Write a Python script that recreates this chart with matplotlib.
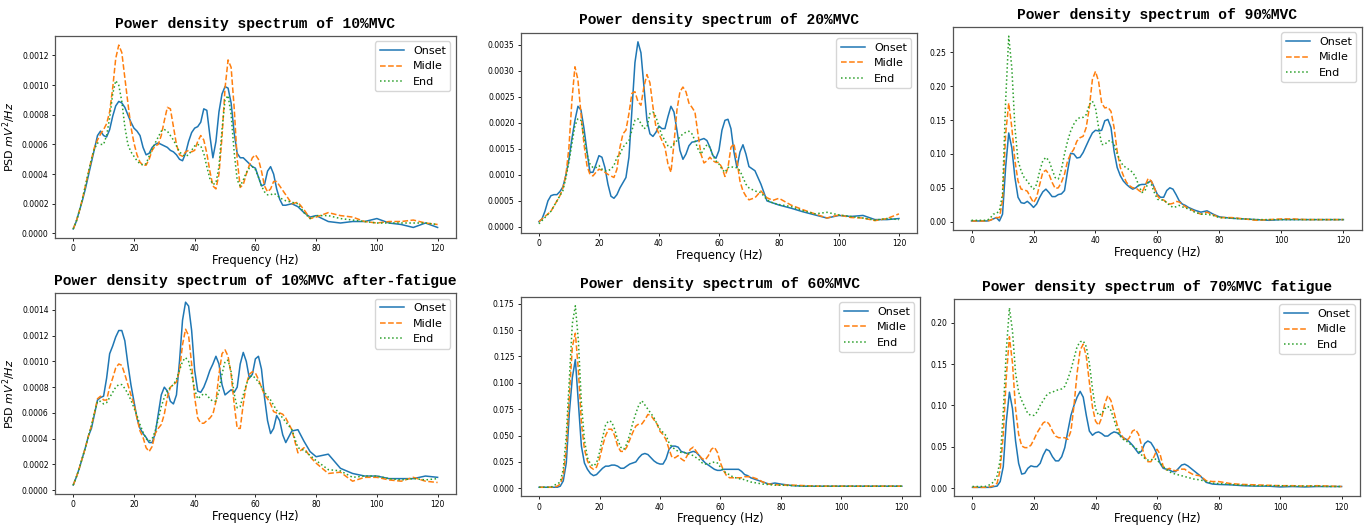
import matplotlib
matplotlib.use("Agg")
import matplotlib.pyplot as plt
import numpy as np
from matplotlib.ticker import MultipleLocator

# sample frequencies (Hz): 1 Hz up to 70, 2 Hz up to 80, 4 Hz up to 120
freq = list(range(0, 71)) + [72, 74, 76, 78, 80] + list(range(84, 121, 4))

# --- 10%MVC, values in 1e-4 mV^2/Hz
onset_10 = [0.3, 0.8, 1.5, 2.2, 3.0, 3.9, 4.8, 5.7, 6.6, 6.9,
            6.6, 6.5, 7.0, 7.9, 8.6, 8.9, 8.8, 8.5, 8.0, 7.5,
            7.1, 6.9, 6.6, 5.8, 5.3, 5.4, 5.8, 6.0, 6.1, 6.0,
            5.9, 5.8, 5.6, 5.5, 5.3, 5.0, 4.9, 5.4, 6.2, 6.8,
            7.1, 7.2, 7.5, 8.4, 8.3, 6.6, 5.1, 6.2, 8.2, 9.4,
            9.9, 9.8, 8.8, 6.8, 5.4, 5.1, 5.1, 4.9, 4.7, 4.5,
            4.4, 3.8, 3.2, 3.3, 4.2, 4.5, 4.0, 3.0, 2.3, 1.9,
            1.9, 2.0, 1.8, 1.4, 1.1, 1.2,
            0.8, 0.7, 0.8, 0.8, 1.0, 0.7, 0.6, 0.4, 0.7, 0.4]
midle_10 = [0.3, 0.8, 1.5, 2.3, 3.2, 4.1, 5.0, 5.8, 6.3, 6.7,
            7.0, 7.4, 8.2, 9.8, 11.8, 12.7, 12.2, 10.5, 8.8, 7.2,
            6.1, 5.3, 4.8, 4.6, 4.6, 5.0, 5.6, 5.9, 6.0, 6.6,
            7.6, 8.5, 8.4, 7.2, 6.0, 5.3, 5.2, 5.5, 5.6, 5.5,
            5.6, 6.2, 6.6, 6.3, 5.4, 4.2, 3.2, 3.0, 4.0, 6.5,
            9.8, 11.7, 11.2, 8.5, 5.0, 3.1, 3.3, 4.0, 4.6, 5.1,
            5.3, 5.0, 4.2, 3.2, 2.8, 3.0, 3.5, 3.5, 3.2, 2.9,
            2.6, 2.0, 2.1, 1.6, 1.0, 1.1,
            1.4, 1.2, 1.1, 0.8, 0.7, 0.8, 0.8, 0.9, 0.7, 0.6]
end_10 = [0.3, 0.8, 1.5, 2.3, 3.2, 4.1, 5.0, 5.7, 6.1, 6.0,
          6.0, 6.6, 7.8, 9.4, 10.3, 10.0, 8.9, 7.2, 6.0, 5.5,
          5.2, 4.9, 4.7, 4.6, 4.7, 5.2, 5.7, 6.1, 6.5, 6.9,
          7.0, 6.9, 6.6, 6.3, 5.9, 5.5, 5.3, 5.2, 5.3, 5.6,
          5.9, 6.0, 5.9, 5.4, 4.5, 3.7, 3.3, 3.4, 4.5, 7.0,
          9.0, 9.3, 8.0, 5.5, 3.6, 3.2, 3.6, 4.1, 4.4, 4.5,
          4.3, 3.8, 3.2, 2.8, 2.6, 2.6, 2.7, 2.6, 2.4, 2.3,
          2.2, 2.1, 2.0, 1.4, 1.0, 1.2,
          1.2, 1.0, 0.9, 0.8, 0.7, 0.7, 0.7, 0.7, 0.7, 0.6]

# --- 20%MVC, values in 1e-4 mV^2/Hz
onset_20 = [1.0, 1.5, 3.0, 5.0, 6.0, 6.2, 6.2, 6.8, 7.7, 10.0,
            13.0, 17.0, 20.5, 23.2, 22.5, 19.0, 14.6, 10.5, 10.5, 12.0,
            13.7, 13.4, 11.4, 8.2, 5.9, 5.5, 6.2, 7.5, 8.5, 9.5,
            13.4, 22.5, 31.6, 35.6, 33.5, 27.0, 20.5, 17.9, 17.4, 18.2,
            19.4, 18.9, 18.9, 21.2, 23.2, 22.1, 18.6, 14.7, 13.0, 14.0,
            15.6, 16.3, 16.4, 16.6, 16.8, 17.0, 16.6, 15.3, 13.7, 13.2,
            14.7, 18.6, 20.5, 20.7, 18.9, 14.4, 11.4, 14.4, 15.8, 14.0,
            11.6, 10.8, 8.2, 5.0, 4.6, 4.2,
            3.6, 2.9, 2.3, 1.7, 2.2, 2.0, 2.2, 1.4, 1.4, 1.6]
midle_20 = [1.0, 1.5, 2.0, 2.5, 3.0, 4.0, 5.0, 6.0, 7.5, 10.0,
            15.3, 24.4, 30.8, 28.3, 21.8, 16.0, 11.8, 10.1, 9.8, 10.5,
            11.1, 10.9, 10.5, 10.1, 9.8, 9.5, 11.1, 15.3, 17.9, 18.6,
            21.8, 25.7, 26.0, 24.1, 23.4, 27.0, 29.3, 27.7, 23.1, 19.2,
            17.9, 16.6, 15.3, 12.1, 10.5, 16.0, 22.5, 26.0, 26.9, 26.0,
            23.8, 23.0, 22.1, 17.9, 14.0, 12.3, 12.7, 13.4, 12.7, 12.4,
            12.4, 11.4, 9.7, 11.4, 15.3, 16.0, 12.7, 8.8, 6.9, 5.9,
            5.2, 5.6, 6.9, 5.6, 5.1, 5.5,
            4.2, 3.3, 2.5, 1.7, 2.3, 1.8, 1.7, 1.2, 1.6, 2.5]
end_20 = [0.6, 1.2, 1.8, 2.4, 3.0, 4.0, 5.0, 6.0, 7.0, 9.5,
          12.5, 16.0, 19.5, 20.8, 20.5, 17.3, 14.0, 12.1, 11.4, 11.4,
          11.8, 11.1, 10.8, 10.8, 11.1, 11.8, 13.4, 14.0, 15.3, 16.0,
          16.6, 18.6, 20.5, 20.8, 19.9, 18.9, 19.2, 21.8, 22.1, 21.2,
          19.2, 17.6, 16.6, 15.6, 15.3, 16.0, 16.6, 17.3, 17.9, 18.2,
          18.4, 17.9, 16.6, 15.0, 14.0, 15.0, 15.8, 15.3, 13.7, 12.7,
          12.1, 11.1, 10.5, 11.4, 11.6, 11.4, 11.4, 10.8, 9.5, 8.2,
          7.5, 6.9, 6.6, 5.2, 4.6, 4.3,
          3.9, 3.1, 2.5, 2.8, 2.3, 2.0, 1.7, 1.3, 1.6, 1.4]

# --- 90%MVC, values in 1e-2 mV^2/Hz
onset_90 = [0.1, 0.1, 0.1, 0.1, 0.1, 0.1, 0.2, 0.4, 0.6, 0.1,
            1.1, 8.0, 13.1, 10.9, 6.5, 3.6, 2.8, 2.7, 3.0, 2.6,
            2.1, 2.6, 3.6, 4.4, 4.8, 4.3, 3.7, 3.7, 4.0, 4.1,
            4.6, 7.5, 10.1, 10.0, 9.4, 9.5, 10.2, 11.2, 12.2, 13.1,
            13.5, 13.4, 13.5, 14.9, 15.1, 13.9, 10.4, 8.0, 6.8, 6.0,
            5.5, 5.1, 4.8, 5.0, 5.4, 5.5, 5.5, 5.8, 6.0, 5.0,
            4.0, 3.6, 3.6, 4.6, 5.0, 4.8, 4.0, 3.1, 2.6, 2.4,
            2.1, 1.7, 1.4, 1.6, 1.1, 0.7,
            0.5, 0.4, 0.3, 0.2, 0.3, 0.3, 0.3, 0.3, 0.3, 0.3]
midle_90 = [0.1, 0.1, 0.1, 0.1, 0.1, 0.1, 0.2, 0.4, 0.6, 0.6,
            3.1, 12.9, 17.5, 13.9, 9.0, 6.0, 4.8, 4.7, 4.5, 3.6,
            2.8, 3.6, 5.5, 7.3, 7.6, 7.0, 5.8, 4.9, 5.0, 5.8,
            7.0, 9.0, 10.0, 10.7, 11.9, 12.4, 12.6, 13.9, 16.8, 21.0,
            22.2, 20.7, 17.5, 16.8, 16.9, 16.3, 13.9, 10.4, 8.0, 6.8,
            5.8, 5.3, 5.0, 5.0, 4.6, 4.3, 5.3, 6.4, 6.0, 5.0,
            3.8, 3.3, 3.2, 2.8, 2.6, 2.7, 3.0, 2.9, 2.6, 2.2,
            2.0, 1.5, 1.1, 1.4, 1.0, 0.6,
            0.6, 0.4, 0.2, 0.3, 0.4, 0.4, 0.3, 0.3, 0.3, 0.3]
end_90 = [0.2, 0.2, 0.2, 0.2, 0.2, 0.2, 0.5, 1.1, 1.2, 1.6,
          4.1, 17.8, 27.4, 22.7, 13.9, 9.0, 7.5, 6.5, 6.0, 5.3,
          4.8, 5.5, 7.5, 9.0, 9.5, 9.0, 7.7, 6.5, 6.3, 7.7,
          10.0, 11.9, 13.4, 14.4, 15.1, 15.4, 15.4, 15.8, 17.3, 17.8,
          16.8, 13.9, 11.4, 11.4, 11.9, 12.0, 11.4, 10.0, 9.0, 8.2,
          8.0, 7.6, 7.3, 6.5, 5.3, 4.3, 4.6, 5.8, 5.5, 4.3,
          3.3, 3.2, 3.2, 2.8, 2.4, 2.1, 2.2, 2.4, 2.2, 2.0,
          1.9, 1.4, 1.1, 1.1, 0.9, 0.6,
          0.5, 0.4, 0.3, 0.3, 0.3, 0.3, 0.3, 0.3, 0.3, 0.3]

# --- 10%MVC after fatigue, values in 1e-4 mV^2/Hz
onset_10f = [0.4, 1.0, 1.7, 2.5, 3.3, 4.2, 4.8, 5.9, 7.0, 7.2,
             7.3, 8.7, 10.6, 11.2, 11.9, 12.4, 12.4, 11.6, 9.8, 8.2,
             6.9, 5.6, 4.8, 4.4, 4.1, 3.7, 3.7, 4.4, 5.9, 7.4,
             8.0, 7.7, 6.9, 6.7, 7.4, 10.0, 13.2, 14.6, 14.3, 12.4,
             9.3, 7.7, 7.6, 8.0, 8.6, 9.3, 9.8, 10.4, 9.8, 8.2,
             7.4, 7.6, 7.8, 7.6, 8.0, 9.8, 10.7, 10.0, 8.7, 9.0,
             10.2, 10.4, 9.4, 7.2, 5.4, 4.4, 4.8, 5.8, 5.4, 4.3,
             3.7, 4.6, 4.7, 3.8, 3.0, 2.6,
             2.8, 1.7, 1.3, 1.1, 1.1, 0.9, 0.9, 0.9, 1.1, 1.0]
midle_10f = [0.4, 1.0, 1.7, 2.5, 3.3, 4.2, 5.0, 6.0, 7.1, 7.3,
             7.0, 7.0, 8.0, 8.7, 9.5, 9.8, 9.7, 9.0, 8.2, 7.4,
             6.7, 5.6, 4.6, 4.1, 3.3, 3.0, 3.4, 4.4, 4.8, 5.1,
             5.9, 7.2, 8.0, 8.2, 8.4, 9.3, 11.3, 12.5, 12.0, 9.8,
             7.2, 5.6, 5.2, 5.2, 5.4, 5.6, 5.9, 6.9, 9.0, 10.6,
             10.9, 10.4, 9.0, 6.7, 4.8, 4.8, 6.7, 8.2, 9.0, 9.2,
             9.1, 8.6, 8.0, 7.4, 7.1, 6.7, 6.1, 6.0, 6.0, 5.9,
             5.6, 4.7, 2.9, 3.3, 2.6, 2.1,
             1.3, 1.4, 0.7, 1.0, 1.0, 0.8, 0.7, 1.0, 0.7, 0.6]
end_10f = [0.4, 1.0, 1.7, 2.5, 3.3, 4.2, 5.0, 6.0, 6.9, 6.9,
           6.7, 6.8, 7.2, 7.6, 8.0, 8.2, 8.2, 7.9, 7.5, 7.0,
           6.4, 5.8, 5.1, 4.5, 4.0, 3.8, 4.0, 4.6, 5.5, 6.5,
           7.2, 7.7, 8.0, 8.2, 8.6, 9.3, 10.0, 10.3, 10.0, 9.0,
           7.8, 7.1, 7.3, 7.5, 7.4, 7.1, 6.9, 6.9, 7.7, 9.0,
           10.0, 10.1, 9.2, 7.5, 6.4, 6.5, 7.4, 8.2, 8.8, 8.9,
           8.7, 8.4, 8.0, 7.6, 7.3, 7.0, 6.6, 6.2, 5.9, 5.6,
           5.3, 4.7, 3.3, 3.1, 2.7, 2.3,
           1.6, 1.5, 1.0, 1.1, 1.1, 0.9, 0.8, 0.9, 0.8, 0.9]

# --- 60%MVC, values in 1e-2 mV^2/Hz
onset_60 = [0.1, 0.1, 0.1, 0.1, 0.1, 0.1, 0.1, 0.2, 0.7, 2.4,
            7.1, 10.5, 12.2, 8.1, 4.0, 2.4, 1.8, 1.4, 1.2, 1.3,
            1.6, 1.9, 2.1, 2.1, 2.2, 2.2, 2.1, 1.9, 1.9, 2.1,
            2.3, 2.4, 2.5, 2.9, 3.2, 3.3, 3.2, 2.9, 2.6, 2.4,
            2.3, 2.3, 2.8, 3.7, 4.0, 4.0, 3.9, 3.5, 3.4, 3.3,
            3.4, 3.5, 3.4, 3.1, 2.7, 2.4, 2.2, 2.0, 1.8, 1.7,
            1.7, 1.8, 1.8, 1.8, 1.8, 1.8, 1.8, 1.6, 1.3, 1.2,
            1.0, 0.8, 0.6, 0.4, 0.5, 0.4,
            0.25, 0.2, 0.2, 0.2, 0.2, 0.2, 0.2, 0.2, 0.2, 0.2]
midle_60 = [0.1, 0.1, 0.1, 0.1, 0.1, 0.1, 0.2, 0.4, 1.2, 3.7,
            8.7, 13.4, 14.7, 11.2, 6.2, 3.7, 2.6, 2.0, 1.8, 2.0,
            2.8, 4.0, 5.0, 5.6, 5.6, 5.0, 4.0, 3.5, 3.5, 3.9,
            4.6, 5.3, 5.9, 6.1, 6.1, 6.5, 7.0, 6.9, 6.5, 6.1,
            5.4, 5.1, 4.6, 3.7, 2.9, 2.9, 3.1, 2.8, 2.6, 3.1,
            3.7, 3.9, 3.5, 3.1, 2.8, 2.7, 3.1, 3.7, 3.9, 3.4,
            2.4, 1.7, 1.2, 1.0, 1.0, 1.0, 1.0, 1.0, 1.1, 1.1,
            1.1, 0.9, 0.6, 0.4, 0.35, 0.3,
            0.3, 0.25, 0.2, 0.2, 0.2, 0.2, 0.2, 0.2, 0.2, 0.2]
end_60 = [0.1, 0.1, 0.1, 0.1, 0.1, 0.3, 0.4, 0.6, 1.8, 5.0,
          10.3, 15.6, 17.3, 14.0, 8.1, 4.6, 2.9, 2.3, 2.1, 2.4,
          3.4, 4.8, 6.0, 6.4, 6.3, 5.6, 4.6, 3.9, 3.7, 4.2,
          5.1, 6.2, 7.1, 7.9, 8.3, 7.9, 7.5, 7.1, 6.7, 6.1,
          5.6, 5.3, 5.0, 4.3, 3.9, 3.7, 3.5, 3.4, 3.4, 3.3,
          3.2, 3.1, 2.9, 2.7, 2.4, 2.3, 2.3, 2.4, 2.5, 2.4,
          2.0, 1.7, 1.4, 1.3, 1.1, 1.0, 0.9, 0.9, 0.8, 0.7,
          0.6, 0.5, 0.4, 0.35, 0.3, 0.3,
          0.25, 0.2, 0.2, 0.2, 0.2, 0.2, 0.2, 0.2, 0.2, 0.2]

# --- 70%MVC fatigue, values in 1e-2 mV^2/Hz
onset_70 = [0.1, 0.1, 0.1, 0.1, 0.1, 0.1, 0.1, 0.2, 0.25, 0.8,
            2.6, 8.1, 11.6, 9.6, 5.7, 3.0, 1.7, 1.8, 2.4, 2.7,
            2.6, 2.6, 3.0, 4.0, 4.7, 4.5, 3.8, 3.3, 3.3, 3.8,
            4.9, 6.9, 8.8, 10.0, 11.0, 11.7, 11.0, 8.8, 6.9, 6.4,
            6.7, 6.8, 6.6, 6.3, 6.3, 6.6, 6.8, 6.7, 6.4, 6.1,
            5.9, 5.6, 5.2, 4.7, 4.2, 4.5, 5.4, 5.7, 5.5, 4.9,
            4.1, 3.0, 2.4, 2.3, 2.2, 2.0, 2.0, 2.4, 2.8, 2.9,
            2.7, 2.1, 1.5, 0.7, 0.5, 0.45,
            0.4, 0.3, 0.25, 0.25, 0.15, 0.2, 0.15, 0.2, 0.2, 0.2]
midle_70 = [0.1, 0.1, 0.1, 0.1, 0.1, 0.1, 0.2, 0.3, 0.6, 2.2,
            6.5, 13.5, 18.3, 15.1, 9.6, 6.5, 5.1, 4.9, 4.9, 5.2,
            5.9, 6.7, 7.3, 7.9, 8.1, 7.7, 6.9, 6.3, 6.1, 6.1,
            6.1, 5.9, 6.9, 10.0, 13.9, 16.7, 17.4, 15.9, 12.8, 9.8,
            8.1, 7.6, 8.5, 10.2, 11.2, 10.6, 9.2, 7.7, 6.7, 6.1,
            5.7, 6.1, 6.9, 7.1, 6.5, 5.1, 3.8, 3.2, 3.2, 3.8,
            4.7, 4.1, 2.6, 2.2, 2.4, 2.2, 2.1, 2.2, 2.3, 2.3,
            2.0, 1.6, 1.5, 0.9, 0.8, 0.8,
            0.55, 0.45, 0.4, 0.35, 0.3, 0.3, 0.25, 0.3, 0.25, 0.2]
end_70 = [0.2, 0.2, 0.2, 0.2, 0.2, 0.3, 0.5, 0.8, 1.5, 3.4,
          9.2, 16.7, 21.8, 19.0, 13.9, 11.6, 10.6, 9.8, 9.0, 8.8,
          8.8, 9.2, 10.0, 10.6, 11.2, 11.5, 11.6, 11.8, 11.9, 12.0,
          12.3, 13.2, 14.3, 15.7, 17.1, 17.7, 17.8, 17.1, 15.1, 12.0,
          9.6, 8.8, 9.0, 9.6, 9.9, 9.4, 8.3, 7.1, 6.3, 5.9,
          5.7, 5.4, 5.1, 4.9, 4.5, 4.0, 3.6, 3.4, 3.4, 3.6,
          3.4, 3.0, 2.6, 2.3, 2.0, 1.8, 1.7, 1.6, 1.5, 1.4,
          1.3, 1.1, 1.0, 0.8, 0.6, 0.55,
          0.45, 0.35, 0.3, 0.3, 0.3, 0.25, 0.25, 0.25, 0.2, 0.2]

titles = ["Power density spectrum of 10%MVC",
          "Power density spectrum of 20%MVC",
          "Power density spectrum of 90%MVC",
          "Power density spectrum of 10%MVC after-fatigue",
          "Power density spectrum of 60%MVC",
          "Power density spectrum of 70%MVC fatigue"]
series = [(onset_10, midle_10, end_10, 1e-4),
          (onset_20, midle_20, end_20, 1e-4),
          (onset_90, midle_90, end_90, 1e-2),
          (onset_10f, midle_10f, end_10f, 1e-4),
          (onset_60, midle_60, end_60, 1e-2),
          (onset_70, midle_70, end_70, 1e-2)]
ytick_step = [0.0002, 0.0005, 0.05, 0.0002, 0.025, 0.05]
# axes boxes in figure fractions, taken from the screenshot layout
boxes = [(0.0402, 0.549, 0.293, 0.383),
         (0.3808, 0.559, 0.2895, 0.379),
         (0.6966, 0.564, 0.299, 0.385),
         (0.0402, 0.064, 0.293, 0.381),
         (0.3808, 0.060, 0.2917, 0.378),
         (0.6974, 0.060, 0.2968, 0.374)]

fig = plt.figure(figsize=(13.68, 5.28), dpi=100)
for i in range(6):
    ax = fig.add_axes(boxes[i])
    on, mi, en, scale = series[i]
    ax.plot(freq, np.array(on) * scale, color="tab:blue", lw=1.1, label="Onset")
    ax.plot(freq, np.array(mi) * scale, color="tab:orange", lw=1.1, ls="--", label="Midle")
    ax.plot(freq, np.array(en) * scale, color="tab:green", lw=1.1, ls=":", label="End")
    ax.set_xticks([0, 20, 40, 60, 80, 100, 120])
    ax.yaxis.set_major_locator(MultipleLocator(ytick_step[i]))
    ax.tick_params(labelsize=5.5, length=2.5, width=0.6, pad=2)
    for sp in ax.spines.values():
        sp.set_linewidth(0.9)
        sp.set_color("#555555")
    ax.set_xlabel("Frequency (Hz)", fontsize=8.3, labelpad=0.5)
    if i % 3 == 0:
        ax.set_ylabel("PSD $mV^2/Hz$", fontsize=8, labelpad=3)
    ax.set_title(titles[i], fontsize=10.5, fontweight="bold",
                 family=["Liberation Mono", "DejaVu Sans Mono"], pad=6)
    ax.legend(loc="upper right", fontsize=8, handlelength=2.2)

fig.savefig("out.png", dpi=100)
